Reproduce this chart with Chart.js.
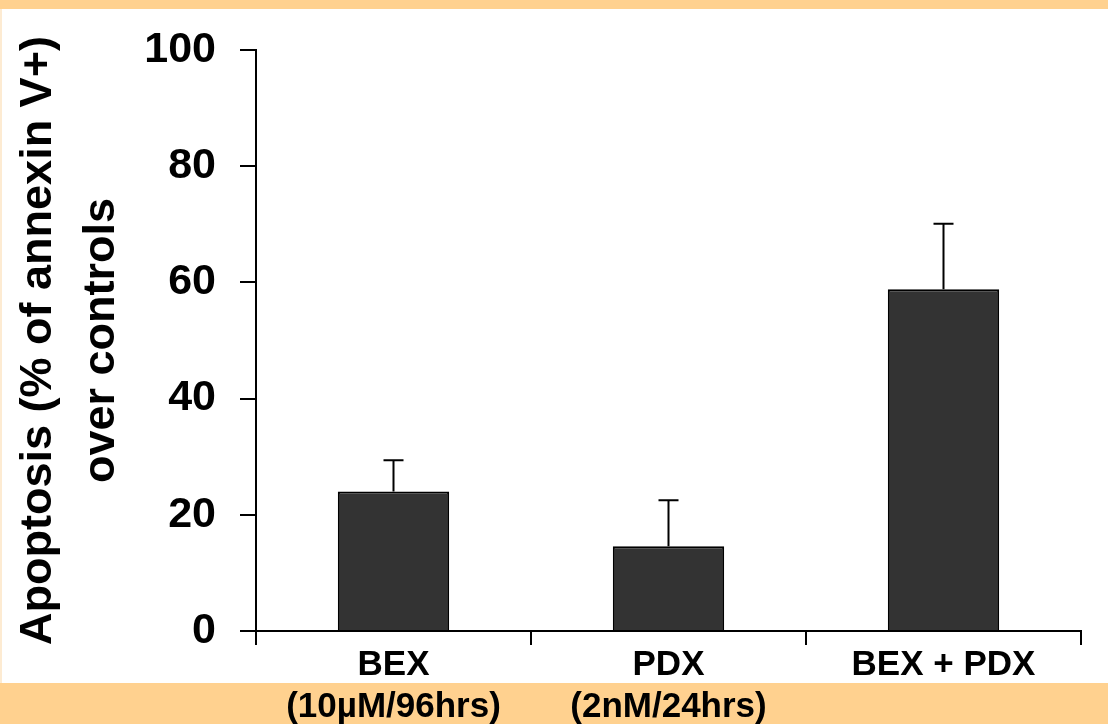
<!DOCTYPE html>
<html>
<head>
<meta charset="utf-8">
<title>Apoptosis</title>
<script src="https://cdn.jsdelivr.net/npm/chart.js@4/dist/chart.umd.min.js"></script>
<style>
  html, body { margin: 0; padding: 0; background: #ffffff; }
  #wrap { width: 1108px; height: 724px; position: relative; }
</style>
</head>
<body>
<div id="wrap"><canvas id="c" width="1108" height="724"></canvas></div>
<script>
// Treatment groups (multi-line labels)
const categories = [
  ['BEX', '(10µM/96hrs)'],
  ['PDX', '(2nM/24hrs)'],
  'BEX + PDX'
];
// Mean apoptosis (% of annexin V+ over controls)
const apoptosis = [24.0, 14.6, 58.8];
// Upper error (SD)
const errorUp = [5.4, 7.9, 11.3];
// Y axis ticks
const yTicks = [0, 20, 40, 60, 80, 100];

const FONT = '"Liberation Sans", Arial, Helvetica, sans-serif';
const BAND = '#FFD18F';

// Page background with the coloured top and bottom bands
const backdrop = {
  id: 'backdrop',
  beforeDraw(chart) {
    const { ctx, width, height } = chart;
    ctx.save();
    ctx.fillStyle = '#ffffff';
    ctx.fillRect(0, 0, width, height);
    ctx.fillStyle = BAND;
    ctx.fillRect(0, 0, width, 9);
    ctx.fillRect(0, 683, width, height - 683);
    ctx.fillStyle = '#FDEBD2';
    ctx.fillRect(0, 9, 2, 674);
    ctx.restore();
  }
};

// Upper error bars with caps
const errorBars = {
  id: 'errorBars',
  afterDatasetsDraw(chart) {
    const { ctx } = chart;
    const yScale = chart.scales.y;
    const meta = chart.getDatasetMeta(0);
    ctx.save();
    ctx.strokeStyle = '#000000';
    ctx.lineWidth = 2;
    meta.data.forEach((bar, i) => {
      const yTop = yScale.getPixelForValue(apoptosis[i] + errorUp[i]);
      const yBase = yScale.getPixelForValue(apoptosis[i]);
      ctx.beginPath();
      ctx.moveTo(bar.x, yBase);
      ctx.lineTo(bar.x, yTop);
      ctx.moveTo(bar.x - 10, yTop);
      ctx.lineTo(bar.x + 10, yTop);
      ctx.stroke();
    });
    ctx.restore();
  }
};

new Chart(document.getElementById('c'), {
  type: 'bar',
  data: {
    labels: categories,
    datasets: [{
      data: apoptosis,
      backgroundColor: '#333333',
      borderColor: '#000000',
      borderWidth: 2,
      categoryPercentage: 1.0,
      barPercentage: 0.405
    }]
  },
  options: {
    responsive: false,
    animation: false,
    devicePixelRatio: 1,
    layout: { padding: { left: 0, top: 50, right: 27, bottom: 0 } },
    plugins: {
      legend: { display: false },
      tooltip: { enabled: false },
      title: { display: false }
    },
    scales: {
      x: {
        type: 'category',
        offset: true,
        grid: {
          display: true,
          offset: true,
          drawOnChartArea: false,
          drawTicks: true,
          tickLength: 14,
          color: '#000000',
          lineWidth: 2
        },
        border: { display: true, color: '#000000', width: 2 },
        ticks: {
          color: '#000000',
          font: { family: FONT, size: 35, weight: 'bold', lineHeight: 1.2 },
          padding: -1,
          autoSkip: false,
          maxRotation: 0,
          minRotation: 0
        },
        afterFit(scale) { scale.height = 93; }
      },
      y: {
        min: 0,
        max: 100,
        afterBuildTicks(scale) { scale.ticks = yTicks.map(v => ({ value: v })); },
        grid: {
          display: true,
          drawOnChartArea: false,
          drawTicks: true,
          tickLength: 16,
          color: '#000000',
          lineWidth: 2
        },
        border: { display: true, color: '#000000', width: 2 },
        ticks: {
          color: '#000000',
          font: { family: FONT, size: 43, weight: 'bold' },
          padding: 24
        },
        title: {
          display: true,
          text: ['Apoptosis (% of annexin V+)', 'over controls'],
          color: '#000000',
          font: { family: FONT, size: 45, weight: 'bold', lineHeight: 1.4 },
          padding: { top: 7.5, bottom: 0 }
        },
        afterFit(scale) { scale.width = 256; }
      }
    }
  },
  plugins: [backdrop, errorBars]
});
</script>
</body>
</html>
